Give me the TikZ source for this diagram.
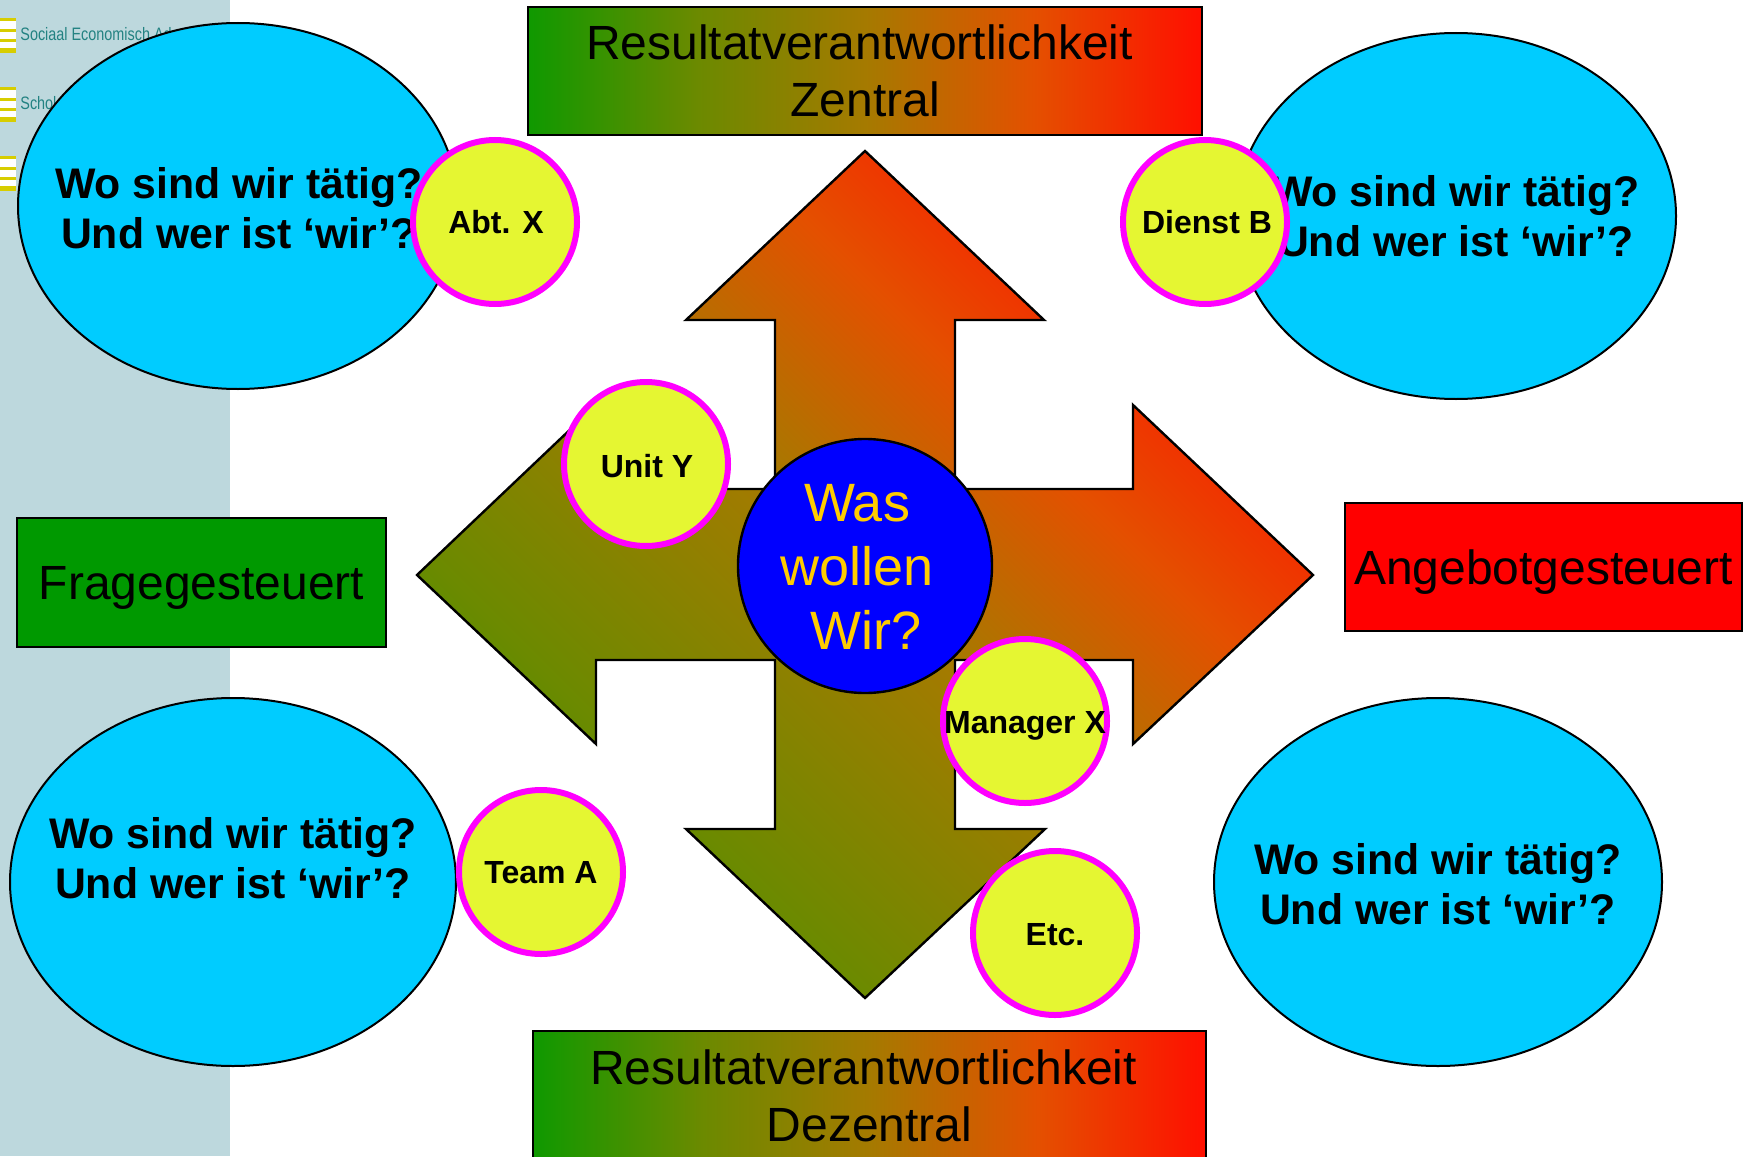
\documentclass[tikz,border=0pt]{standalone}
\usepackage{fontspec}
\setmainfont{Liberation Sans}
\newfontfamily\sidefont[FakeStretch=0.8]{Liberation Sans}
\usetikzlibrary{shapes.geometric}
\definecolor{cSide}{RGB}{189,216,221}
\definecolor{cBubble}{RGB}{0,204,255}
\definecolor{cChip}{RGB}{229,246,50}
\definecolor{cRing}{RGB}{255,0,255}
\definecolor{cCore}{RGB}{0,0,255}
\definecolor{cCoreText}{RGB}{255,204,0}
\definecolor{cGreen}{RGB}{0,153,0}
\definecolor{cRed}{RGB}{255,0,0}
\definecolor{cSideText}{RGB}{35,130,130}
\definecolor{cIcon}{RGB}{215,205,0}
\definecolor{gA}{RGB}{15,153,0}
\definecolor{gB}{RGB}{107,138,0}
\definecolor{gC}{RGB}{165,122,0}
\definecolor{gD}{RGB}{228,80,0}
\definecolor{gE}{RGB}{255,15,0}
\pgfdeclarehorizontalshading{rg}{100bp}{color(0bp)=(gA); color(25bp)=(gA); color(37.5bp)=(gB); color(50bp)=(gC); color(62.5bp)=(gD); color(75bp)=(gE); color(100bp)=(gE)}
\pgfdeclarehorizontalshading{rgdiag}{100bp}{color(0bp)=(gA); color(15.6bp)=(gA); color(32.8bp)=(gB); color(50bp)=(gC); color(62bp)=(gD); color(76bp)=(gE); color(100bp)=(gE)}
\begin{document}
\begin{tikzpicture}[x=0.5pt,y=-0.5pt,
  bubble/.style={ellipse, draw=black, line width=1pt, fill=cBubble, inner sep=0pt},
  bubbletext/.style={font=\fontsize{21.4}{25}\selectfont\bfseries, align=center, inner sep=0pt, anchor=north},
  chip/.style={circle, draw=cRing, line width=3pt, fill=cChip, minimum size=82pt, inner sep=0pt},
  chiptext/.style={font=\fontsize{16}{19}\selectfont\bfseries, inner sep=0pt, anchor=base},
  gradbox/.style={rectangle, draw=black, line width=1pt, shading=rg, align=center, inner sep=0pt,
    font=\fontsize{24}{28.5}\selectfont},
  flatbox/.style={rectangle, draw=black, line width=1pt, inner sep=0pt, text height=17.2pt, text depth=0pt,
    font=\fontsize{24}{28.5}\selectfont},
  sidetext/.style={font=\sidefont\fontsize{9}{10}\selectfont, text=cSideText, inner sep=0pt, anchor=base west},
  iconbar/.style={fill=cIcon, draw=none}
]
\useasboundingbox (0,0) rectangle (1744,1156);
\fill[white] (0,0) rectangle (1744,1156);
% sidebar
\fill[cSide] (0,0) rectangle (230,1156);
\foreach \dy in {0,69,138}{
  \fill[white] (0,18+\dy) rectangle (16,53+\dy);
  \fill[iconbar] (0,18+\dy) rectangle (16,21+\dy);
  \fill[iconbar] (0,29+\dy) rectangle (16,32+\dy);
  \fill[iconbar] (0,39+\dy) rectangle (16,42+\dy);
  \fill[iconbar] (0,48+\dy) rectangle (16,53+\dy);
}
\node[sidetext] (s1) at (20,41) {Sociaal Economisch Ad};
\node[sidetext] (s2) at (20,110) {Schol};

% big ellipses
\node[bubble, minimum width=220pt, minimum height=183pt] (tl) at (238,206) {};
\node[bubble, minimum width=220pt, minimum height=183pt] (tr) at (1456,216) {};
\node[bubble, minimum width=223pt, minimum height=184pt] (bl) at (233,882) {};
\node[bubble, minimum width=224pt, minimum height=184pt] (br) at (1438,882) {};
\node[bubbletext] (tlt) at (239,167) {Wo sind wir tätig?\\Und wer ist ‘wir’?};
\node[bubbletext] (trt) at (1456,175) {Wo sind wir tätig?\\Und wer ist ‘wir’?};
\node[bubbletext] (blt) at (233,817) {Wo sind wir tätig?\\Und wer ist ‘wir’?};
\node[bubbletext] (brt) at (1438,843) {Wo sind wir tätig?\\Und wer ist ‘wir’?};

% boxes
\node[gradbox, minimum width=337pt, minimum height=64pt] (top) at (865,71) {Resultatverantwortlichkeit\kern5.5pt\relax\\Zentral};
\node[gradbox, minimum width=336.5pt, minimum height=64.5pt] (bot) at (869.5,1095.5) {Resultatverantwortlichkeit\kern6pt\relax\\Dezentral};
\node[flatbox, fill=cGreen, minimum width=184.5pt, minimum height=64.5pt] (frage) at (201.5,582.5) {Fragegesteuert};
\node[flatbox, fill=cRed, minimum width=198.5pt, minimum height=64pt] (angebot) at (1543.5,567) {Angebotgesteuert};

% cross arrow
\shadedraw[draw=black, line width=1.2pt, shading=rgdiag, shading angle=45, line join=miter]
 (865,151) -- (1044,320) -- (955,320) -- (955,489) -- (1133,489) -- (1133,405) -- (1313,575)
 -- (1133,744) -- (1133,660) -- (955,660) -- (955,829) -- (1045,829) -- (865,998) -- (686,829)
 -- (775,829) -- (775,660) -- (596,660) -- (596,744) -- (417,575) -- (596,405) -- (596,489)
 -- (775,489) -- (775,320) -- (686,320) -- cycle;

% centre
\node[circle, draw=black, line width=1.2pt, fill=cCore, minimum size=127pt, inner sep=0pt] (core) at (865,566) {};
\node[font=\fontsize{27}{32}\selectfont, text=cCoreText, align=center, inner sep=0pt, anchor=north] (coret) at (857,484) {Was\\wollen\\\hspace{9pt}Wir?};

% chips
\node[chip] (abt) at (495,222) {};
\node[chiptext] (abtt) at (496,233) {Abt. X};
\node[chip] (dienst) at (1205,222) {};
\node[chiptext] (dienstt) at (1207,233) {Dienst B};
\node[chip] (unit) at (646,464) {};
\node[chiptext] (unitt) at (647,477) {Unit Y};
\node[chip] (manager) at (1025,721) {};
\node[chiptext] (managert) at (1025,733) {Manager X};
\node[chip] (team) at (541,872) {};
\node[chiptext] (teamt) at (541,883) {Team A};
\node[chip] (etc) at (1055,933) {};
\node[chiptext] (etct) at (1055,945) {Etc.};
\end{tikzpicture}
\end{document}
